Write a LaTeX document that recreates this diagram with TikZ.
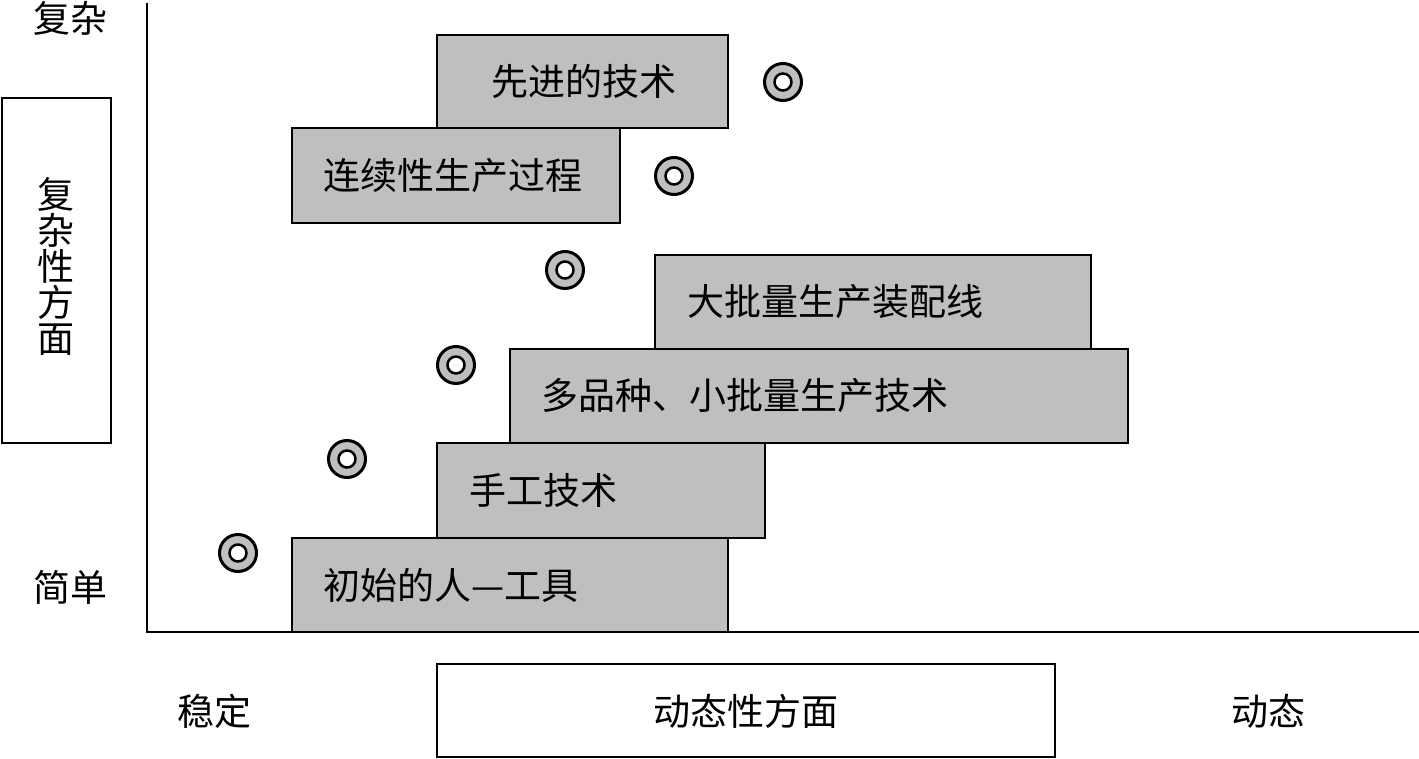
\documentclass[tikz,border=0pt]{standalone}
\usepackage{fontspec}
\setmainfont{Noto Sans CJK SC}
\begin{document}
\begin{tikzpicture}[x=1pt,y=-1pt,
  gbox/.style={draw=black,line width=1.5pt,fill=boxgray},
  wbox/.style={draw=black,line width=1.5pt,fill=white},
  lbl/.style={font=\fontsize{37}{37}\selectfont,inner sep=0pt},
  axis/.style={draw=black,line width=2pt}]
\definecolor{boxgray}{RGB}{191,191,191}
\useasboundingbox (0,0) rectangle (1419,759);
% axes
\coordinate (top) at (147,3);
\coordinate (origin) at (147,632);
\coordinate (right) at (1419,632);
\draw[axis] (top) -- (origin) -- (right);
% boxes
\draw[gbox] (437,35) rectangle (728,128);
\node[lbl,anchor=west] (b1) at (491,81) {先进的技术};
\draw[gbox] (292,128) rectangle (620,223);
\node[lbl,anchor=west] (b2) at (323,176) {连续性生产过程};
\draw[gbox] (655,255) rectangle (1091,349);
\node[lbl,anchor=west] (b3) at (687,302) {大批量生产装配线};
\draw[gbox] (510,349) rectangle (1128,443);
\node[lbl,anchor=west] (b4) at (541,396) {多品种、小批量生产技术};
\draw[gbox] (437,443) rectangle (765,538);
\node[lbl,anchor=west] (b5) at (469,490) {手工技术};
\draw[gbox] (292,538) rectangle (728,632);
\node[lbl,anchor=west] (b6) at (323,585) {初始的人—工具};
% circle markers
\foreach \cx/\cy in {783/82,674/176,565/270,456/365,347/459,238/553}{
  \fill[boxgray,draw=black,line width=3pt] (\cx,\cy) circle[radius=18.5];
  \fill[white,draw=black,line width=2.5pt] (\cx,\cy) circle[radius=8.5];
}
% left box
\draw[wbox] (2,98) rectangle (111,443);
\node[lbl,align=center,font=\fontsize{37}{36}\selectfont] (vlab) at (56,266) {复\\杂\\性\\方\\面};
% labels
\node[lbl] (complex) at (70,18) {复杂};
\node[lbl] (simple) at (70,587) {简单};
\node[lbl] (stable) at (214,711) {稳定};
\node[lbl] (dynamic) at (1268,711) {动态};
\draw[wbox] (437,664) rectangle (1055,757);
\node[lbl] (dlab) at (746,711) {动态性方面};
\end{tikzpicture}
\end{document}
